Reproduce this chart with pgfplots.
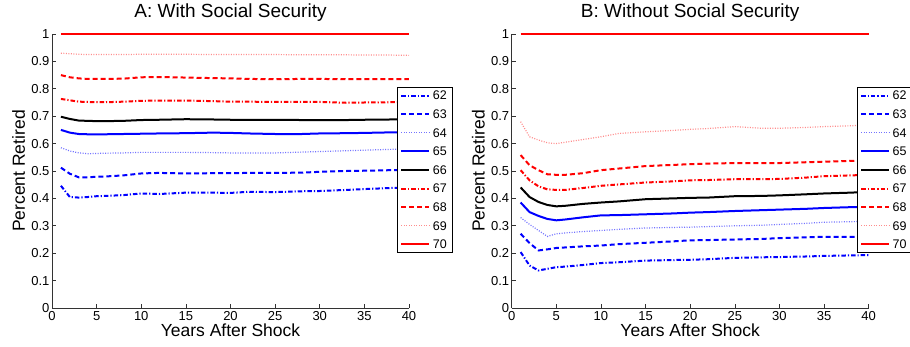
\documentclass[border=0pt]{standalone}
\usepackage{pgfplots}
\usepackage{pgfplotstable}
\pgfplotsset{compat=1.18}
\usepackage{fontspec}
\setmainfont{Liberation Sans}

\pgfplotstableread{
x s62 s63 s64 s65 s66 s67 s68 s69 s70
1 .446 .512 .585 .650 .698 .763 .850 .930 1
2 .405 .490 .573 .640 .690 .758 .842 .928 1
3 .403 .477 .566 .635 .684 .753 .838 .926 1
4 .405 .477 .563 .634 .683 .752 .836 .925 1
5 .408 .479 .564 .634 .682 .751 .836 .925 1
6 .409 .480 .565 .634 .682 .751 .836 .925 1
8 .412 .484 .566 .635 .683 .753 .837 .925 1
10 .418 .491 .568 .636 .686 .756 .842 .926 1
12 .416 .493 .568 .637 .687 .757 .843 .926 1
15 .421 .491 .568 .638 .689 .757 .841 .926 1
18 .421 .492 .567 .640 .688 .755 .839 .925 1
20 .420 .492 .566 .639 .687 .753 .838 .925 1
22 .424 .493 .566 .637 .687 .753 .836 .925 1
25 .423 .493 .566 .635 .687 .752 .835 .925 1
28 .426 .494 .569 .635 .686 .752 .836 .924 1
30 .427 .497 .571 .637 .686 .752 .836 .924 1
33 .431 .500 .574 .638 .686 .749 .835 .924 1
35 .434 .501 .576 .639 .687 .750 .835 .923 1
38 .438 .503 .579 .641 .688 .751 .835 .923 1
40 .440 .505 .581 .641 .689 .751 .835 .922 1
}\dataA

\pgfplotstableread{
x s62 s63 s64 s65 s66 s67 s68 s69 s70
1 .204 .271 .330 .385 .440 .503 .558 .680 1
2 .155 .237 .305 .350 .405 .466 .521 .625 1
3 .137 .210 .283 .336 .387 .444 .503 .613 1
4 .143 .214 .261 .325 .376 .433 .488 .603 1
5 .149 .219 .271 .320 .371 .431 .486 .600 1
6 .151 .221 .274 .323 .373 .431 .486 .605 1
8 .157 .225 .279 .331 .380 .438 .492 .615 1
10 .164 .228 .283 .338 .385 .446 .503 .625 1
12 .167 .233 .287 .339 .389 .451 .509 .637 1
15 .173 .238 .292 .342 .397 .458 .518 .643 1
18 .175 .243 .294 .345 .400 .462 .522 .648 1
20 .176 .247 .295 .348 .402 .466 .525 .652 1
22 .178 .248 .297 .350 .403 .467 .527 .655 1
25 .183 .250 .300 .354 .408 .470 .529 .662 1
28 .185 .252 .302 .357 .409 .470 .529 .656 1
30 .186 .255 .305 .359 .411 .471 .529 .656 1
33 .188 .258 .309 .362 .415 .476 .532 .659 1
35 .190 .260 .313 .365 .418 .481 .534 .662 1
38 .192 .260 .315 .368 .421 .484 .537 .665 1
40 .193 .260 .316 .369 .424 .486 .538 .668 1
}\dataB

\tikzset{
  s62/.style={blue, line width=2pt, dash pattern=on 4.5pt off 2pt on 1.2pt off 2pt},
  s63/.style={blue, line width=2pt, dash pattern=on 5pt off 3pt},
  s64/.style={blue!55, line width=1.2pt, dash pattern=on 1pt off 1.5pt},
  s65/.style={blue, line width=2pt, solid},
  s66/.style={black, line width=2pt, solid},
  s67/.style={red, line width=2pt, dash pattern=on 4.5pt off 2pt on 1.2pt off 2pt},
  s68/.style={red, line width=2pt, dash pattern=on 5pt off 3pt},
  s69/.style={red!45, line width=1.2pt, dash pattern=on 1pt off 1.5pt},
  s70/.style={red, line width=2pt, solid},
}

\pgfplotsset{
  panel/.style={
    scale only axis, width=357pt, height=274pt,
    xmin=0, xmax=40, ymin=0, ymax=1,
    clip=false,
    axis x line*=bottom, axis y line*=left,
    axis line style={-, black!80, line width=0.6pt},
    tick align=inside, major tick length=4pt,
    tick style={black!80, line width=0.6pt},
    xtick={0,5,...,40}, ytick={0,0.1,...,1},
    /pgf/number format/assume math mode=true,
    /pgf/number format/fixed,
    tick label style={font=\fontsize{13}{15}\selectfont},
    yticklabel style={xshift=1pt},
    every axis title/.style={font=\fontsize{19}{22}\selectfont, at={(axis description cs:0.5,1)}, anchor=base, yshift=16pt},
    every axis x label/.style={font=\fontsize{17.5}{20}\selectfont, at={(axis description cs:0.5,0)}, anchor=base, yshift=-29pt},
    every axis y label/.style={font=\fontsize{17.5}{20}\selectfont, at={(axis description cs:0,0.5)}, rotate=90, anchor=base, yshift=27pt},
    xlabel={Years After Shock}, ylabel={Percent Retired},
    legend image code/.code={\draw[#1] (0pt,0pt) -- (28pt,0pt);},
    legend cell align=left,
    legend style={at={(0.966,0.807)}, anchor=north west, draw=black, line width=1.1pt,
      font=\fontsize{12.5}{14}\selectfont, inner xsep=3pt, inner ysep=3pt, row sep=8.1pt,
      nodes={inner xsep=2.5pt, inner ysep=1pt, text height=8.5pt, text depth=0pt}},
  },
}

\begin{document}
\begin{tikzpicture}
\begin{axis}[panel, at={(0pt,0pt)}, anchor=south west, title={A: With Social Security}]
\addplot[s62] table[x=x,y=s62] {\dataA};
\addplot[s63] table[x=x,y=s63] {\dataA};
\addplot[s64] table[x=x,y=s64] {\dataA};
\addplot[s65] table[x=x,y=s65] {\dataA};
\addplot[s66] table[x=x,y=s66] {\dataA};
\addplot[s67] table[x=x,y=s67] {\dataA};
\addplot[s68] table[x=x,y=s68] {\dataA};
\addplot[s69] table[x=x,y=s69] {\dataA};
\addplot[s70] table[x=x,y=s70] {\dataA};
\legend{62,63,64,65,66,67,68,69,70}
\end{axis}
\begin{axis}[panel, at={(459.7pt,0pt)}, anchor=south west, title={B: Without Social Security}]
\addplot[s62] table[x=x,y=s62] {\dataB};
\addplot[s63] table[x=x,y=s63] {\dataB};
\addplot[s64] table[x=x,y=s64] {\dataB};
\addplot[s65] table[x=x,y=s65] {\dataB};
\addplot[s66] table[x=x,y=s66] {\dataB};
\addplot[s67] table[x=x,y=s67] {\dataB};
\addplot[s68] table[x=x,y=s68] {\dataB};
\addplot[s69] table[x=x,y=s69] {\dataB};
\addplot[s70] table[x=x,y=s70] {\dataB};
\legend{62,63,64,65,66,67,68,69,70}
\end{axis}
\pgfresetboundingbox
\useasboundingbox (-52pt,-39pt) rectangle (858pt,308pt);
\end{tikzpicture}
\end{document}
